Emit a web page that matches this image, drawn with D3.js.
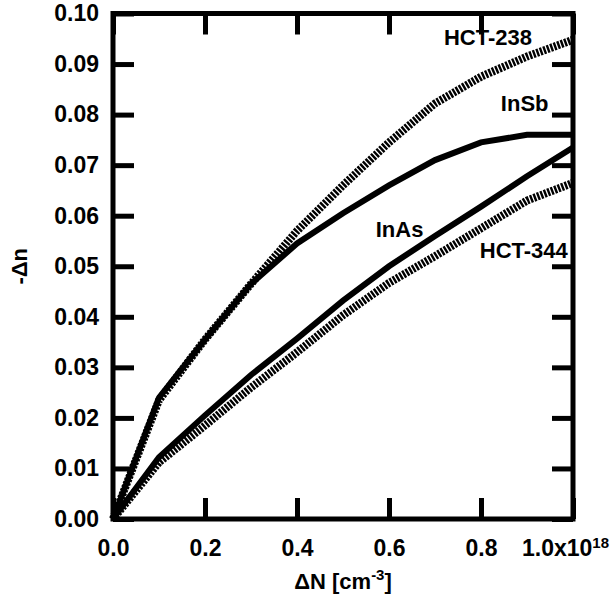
<!DOCTYPE html>
<html>
<head>
<meta charset="utf-8">
<script src="https://cdn.jsdelivr.net/npm/d3@7"></script>
<style>
  html, body { margin: 0; padding: 0; background: #fff; }
  text { font-family: "Liberation Sans", Arial, sans-serif; font-weight: bold; fill: #000; }
</style>
</head>
<body>
<svg id="chart" width="614" height="600"></svg>
<script>
// ---- data ----
const carrierDensity = [0, 0.1, 0.2, 0.3, 0.4, 0.5, 0.6, 0.7, 0.8, 0.9, 1.0];
const hct238 = [0, 0.0235, 0.0355, 0.0465, 0.057, 0.066, 0.0745, 0.0822, 0.0875, 0.0915, 0.0948];
const inSb   = [0, 0.024, 0.0355, 0.0465, 0.0545, 0.0605, 0.066, 0.071, 0.0745, 0.076, 0.076];
const inAs   = [0, 0.0122, 0.0205, 0.0285, 0.0357, 0.0432, 0.050, 0.056, 0.0618, 0.0678, 0.0735];
const hct344 = [0, 0.0112, 0.0185, 0.026, 0.033, 0.0403, 0.0467, 0.052, 0.0575, 0.063, 0.0665];
const seriesNames = ["HCT-238", "InSb", "InAs", "HCT-344"];
const xTicks = [0, 0.2, 0.4, 0.6, 0.8, 1.0];
const xTickLabels = ["0.0", "0.2", "0.4", "0.6", "0.8", "1.0x10"];
const yTicks = [0, 0.01, 0.02, 0.03, 0.04, 0.05, 0.06, 0.07, 0.08, 0.09, 0.10];

// ---- layout ----
const svg = d3.select("#chart");
const L = 113, R = 573, T = 13.5, B = 519;
const x = d3.scaleLinear().domain([0, 1]).range([L, R]);
const y = d3.scaleLinear().domain([0, 0.1]).range([B, T]);

const series = [
  { name: seriesNames[0], vals: hct238, hatched: true,  lx: 0.815, ly: 0.0937 },
  { name: seriesNames[1], vals: inSb,   hatched: false, lx: 0.895, ly: 0.0808 },
  { name: seriesNames[2], vals: inAs,   hatched: false, lx: 0.623, ly: 0.0557 },
  { name: seriesNames[3], vals: hct344, hatched: true,  lx: 0.893, ly: 0.0516 }
];

const line = d3.line().x(d => x(d[0])).y(d => y(d[1]));

series.forEach(s => {
  const pts = carrierDensity.map((c, i) => [c, s.vals[i]]);
  const p = svg.append("path")
    .attr("d", line(pts))
    .attr("fill", "none")
    .attr("stroke", "#000")
    .attr("stroke-linejoin", "miter");
  if (s.hatched) {
    p.attr("stroke-width", 8).attr("stroke-dasharray", "2.4,1.3");
  } else {
    p.attr("stroke-width", 6);
  }
});

// series labels
series.forEach(s => {
  svg.append("text")
    .attr("x", x(s.lx)).attr("y", y(s.ly))
    .attr("text-anchor", "middle")
    .attr("font-size", 22)
    .text(s.name);
});

// axes (ticks inward)
const fmtY = d3.format(".2f");
const gB = svg.append("g").attr("transform", `translate(0,${B})`)
  .call(d3.axisBottom(x).tickValues(xTicks).tickSizeInner(-21).tickSizeOuter(0).tickPadding(21)
    .tickFormat((d, i) => xTickLabels[i]));
const gL = svg.append("g").attr("transform", `translate(${L},0)`)
  .call(d3.axisLeft(y).tickValues(yTicks).tickSizeInner(-21).tickSizeOuter(0).tickPadding(14)
    .tickFormat(fmtY));
const gT = svg.append("g").attr("transform", `translate(0,${T})`)
  .call(d3.axisTop(x).tickValues(xTicks).tickSizeInner(-21).tickSizeOuter(0).tickFormat(""));
const gR = svg.append("g").attr("transform", `translate(${R},0)`)
  .call(d3.axisRight(y).tickValues(yTicks).tickSizeInner(-21).tickSizeOuter(0).tickFormat(""));

[gB, gL, gT, gR].forEach(g => {
  g.select(".domain").remove();
  g.selectAll(".tick line").attr("stroke", "#000").attr("stroke-width", 5);
  g.selectAll(".tick text")
    .attr("fill", "#000")
    .attr("font-size", 23)
    .attr("font-family", "'Liberation Sans', Arial, sans-serif")
    .attr("font-weight", "bold");
});

// last x label with exponent
gB.selectAll(".tick text").filter((d, i) => i === xTicks.length - 1)
  .attr("text-anchor", "middle")
  .attr("dx", -8)
  .append("tspan").attr("dy", "-0.55em").attr("font-size", 15).text("18");

// frame
svg.append("rect")
  .attr("x", L).attr("y", T).attr("width", R - L).attr("height", B - T)
  .attr("fill", "none").attr("stroke", "#000").attr("stroke-width", 5);

// axis titles
const xt = svg.append("text")
  .attr("x", (L + R) / 2).attr("y", 589)
  .attr("text-anchor", "middle").attr("font-size", 22);
xt.append("tspan").text("\u0394N [cm");
xt.append("tspan").attr("dy", -9).attr("font-size", 15).text("-3");
xt.append("tspan").attr("dy", 9).text("]");

svg.append("text")
  .attr("transform", `translate(27,${(T + B) / 2}) rotate(-90)`)
  .attr("text-anchor", "middle").attr("font-size", 22)
  .text("-\u0394n");
</script>
</body>
</html>
